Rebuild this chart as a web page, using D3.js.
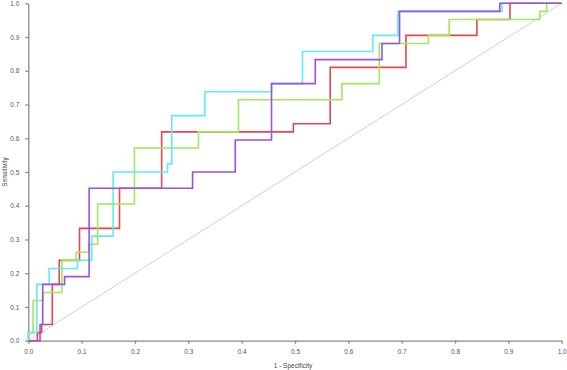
<!DOCTYPE html>
<html>
<head>
<meta charset="utf-8">
<title>ROC curves</title>
<script src="https://d3js.org/d3.v7.min.js"></script>
<style>
  body { margin: 0; background: #fff; }
  .axis path, .axis line { stroke: #8a8a8a; stroke-width: 1.3; }
  .axis text { fill: #555; font-family: "Liberation Sans", Arial, sans-serif; font-size: 6.5px; }
  .lab { fill: #444; font-family: "Liberation Sans", Arial, sans-serif; font-size: 6.5px; }
</style>
</head>
<body>
<div id="chart"></div>
<script>
// tick values for both axes
var ticks = [0, 0.1, 0.2, 0.3, 0.4, 0.5, 0.6, 0.7, 0.8, 0.9, 1.0];

// corner points of each ROC step curve (1 - specificity, sensitivity)
var redFpr = [0, 0.017, 0.025, 0.045, 0.058, 0.096, 0.171, 0.250, 0.497, 0.566, 0.708, 0.841, 0.903, 1];
var redTpr = [0, 0.024, 0.048, 0.167, 0.238, 0.333, 0.452, 0.619, 0.643, 0.810, 0.905, 0.952, 1, 1];

var greenFpr = [0, 0, 0.009, 0.028, 0.063, 0.090, 0.113, 0.130, 0.199, 0.319, 0.394, 0.588, 0.658, 0.750, 0.789, 0.959, 0.972, 1];
var greenTpr = [0, 0.024, 0.119, 0.143, 0.238, 0.262, 0.286, 0.405, 0.571, 0.619, 0.714, 0.762, 0.881, 0.905, 0.952, 0.976, 1, 1];

var cyanFpr = [0, 0, 0.016, 0.039, 0.092, 0.119, 0.159, 0.261, 0.269, 0.331, 0.456, 0.514, 0.646, 0.693, 0.888, 1];
var cyanTpr = [0, 0.024, 0.167, 0.214, 0.238, 0.310, 0.500, 0.524, 0.667, 0.738, 0.762, 0.857, 0.905, 0.976, 1, 1];

var purpleFpr = [0, 0.022, 0.027, 0.068, 0.114, 0.308, 0.388, 0.456, 0.538, 0.663, 0.696, 0.884, 1];
var purpleTpr = [0, 0.048, 0.167, 0.190, 0.452, 0.500, 0.595, 0.762, 0.833, 0.881, 0.976, 1, 1];

var curves = [
  { fpr: redFpr, tpr: redTpr, color: "#e5474d" },
  { fpr: greenFpr, tpr: greenTpr, color: "#9fe85a" },
  { fpr: cyanFpr, tpr: cyanTpr, color: "#62eded" },
  { fpr: purpleFpr, tpr: purpleTpr, color: "#9a52e4" }
];

var W = 567, H = 370;
var margin = { top: 3.3, right: 5.3, bottom: 29.3, left: 28.3 };

var svg = d3.select("#chart").append("svg")
    .attr("width", W)
    .attr("height", H);

var x = d3.scaleLinear().domain([0, 1]).range([margin.left, W - margin.right]);
var y = d3.scaleLinear().domain([0, 1]).range([H - margin.bottom, margin.top]);

// chance diagonal
svg.append("line")
    .attr("x1", x(0)).attr("y1", y(0))
    .attr("x2", x(1)).attr("y2", y(1))
    .attr("stroke", "#d0d0d0")
    .attr("stroke-width", 1);

// axes
svg.append("g")
    .attr("class", "axis")
    .attr("transform", "translate(0," + y(0) + ")")
    .call(d3.axisBottom(x).tickValues(ticks).tickFormat(d3.format(".1f")).tickSizeInner(3).tickSizeOuter(0).tickPadding(6));

svg.append("g")
    .attr("class", "axis")
    .attr("transform", "translate(" + x(0) + ",0)")
    .call(d3.axisLeft(y).tickValues(ticks).tickFormat(d3.format(".1f")).tickSizeInner(3).tickSizeOuter(0).tickPadding(6));

// the curves
var line = d3.line()
    .x(function(d) { return x(d[0]); })
    .y(function(d) { return y(d[1]); })
    .curve(d3.curveStepAfter);

curves.forEach(function(c) {
  var pts = c.fpr.map(function(f, i) { return [f, c.tpr[i]]; });
  svg.append("path")
      .datum(pts)
      .attr("d", line)
      .attr("fill", "none")
      .attr("stroke", c.color)
      .attr("stroke-width", 1.6);
});

// axis titles
svg.append("text")
    .attr("class", "lab")
    .attr("x", (x(0) + x(1)) / 2 - 2)
    .attr("y", 368)
    .attr("text-anchor", "middle")
    .text("1 - Specificity");

svg.append("text")
    .attr("class", "lab")
    .attr("transform", "translate(7," + ((y(0) + y(1)) / 2) + ") rotate(-90)")
    .attr("text-anchor", "middle")
    .text("Sensitivity");
</script>
</body>
</html>
